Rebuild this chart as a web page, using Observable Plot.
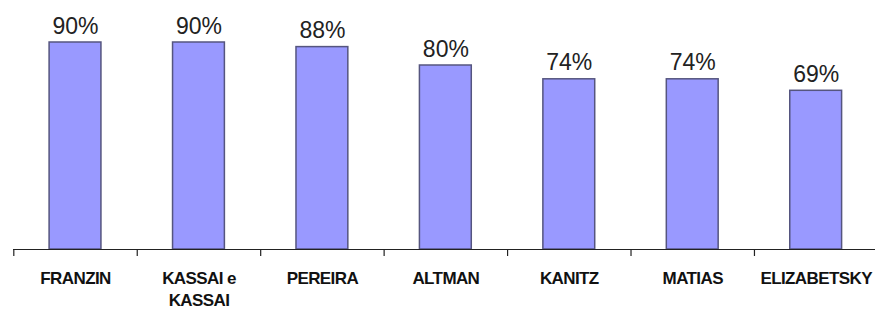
<!DOCTYPE html>
<html>
<head>
<meta charset="utf-8">
<script src="https://cdn.jsdelivr.net/npm/d3@7"></script>
<script src="https://cdn.jsdelivr.net/npm/@observablehq/plot@0.6"></script>
<style>
  html, body { margin: 0; padding: 0; background: #fff; }
  #chart svg { display: block; }
</style>
</head>
<body>
<div id="chart"></div>
<script>
const categories = ["FRANZIN", "KASSAI e\nKASSAI", "PEREIRA", "ALTMAN", "KANITZ", "MATIAS", "ELIZABETSKY"];
const values = [0.90, 0.90, 0.88, 0.80, 0.74, 0.74, 0.69];
const labels = ["90%", "90%", "88%", "80%", "74%", "74%", "69%"];

const data = categories.map((c, i) => ({name: c, value: values[i], label: labels[i]}));

const xRange = [13.3, 877.4];
const step = (xRange[1] - xRange[0]) / categories.length;

const chart = Plot.plot({
  width: 875,
  height: 309,
  marginLeft: 13,
  marginRight: 0,
  marginTop: 19,
  marginBottom: 60,
  style: {fontFamily: "'Liberation Sans', Arial, sans-serif", background: "#fff"},
  x: {domain: categories, range: xRange, paddingInner: 0.58, paddingOuter: 0.29, round: false, label: null},
  y: {domain: [0, 1], range: [249, 19], axis: null},
  marks: [
    Plot.barY(data, {x: "name", y: "value", fill: "#9999ff", stroke: "#55557f", strokeWidth: 1.5}),
    Plot.text(data, {x: "name", y: "value", text: "label", lineAnchor: "bottom", dy: -9,
      fontSize: 23, fill: "#222"}),
    Plot.ruleY([0], {stroke: "#222", strokeWidth: 1.2}),
    Plot.ruleX(categories, {x: d => d, y1: 0, y2: 0, dx: -step / 2, insetBottom: -7, stroke: "#222", strokeWidth: 1.2}),
    Plot.axisX({tickSize: 0, tickPadding: 19, fontSize: 17, fontWeight: "bold", lineHeight: 1.3,
      fill: "#111", label: null})
  ]
});
d3.select(chart).selectAll("g[aria-label='x-axis tick label'] text").style("letter-spacing", "-0.6px");
document.getElementById("chart").appendChild(chart);
</script>
</body>
</html>
